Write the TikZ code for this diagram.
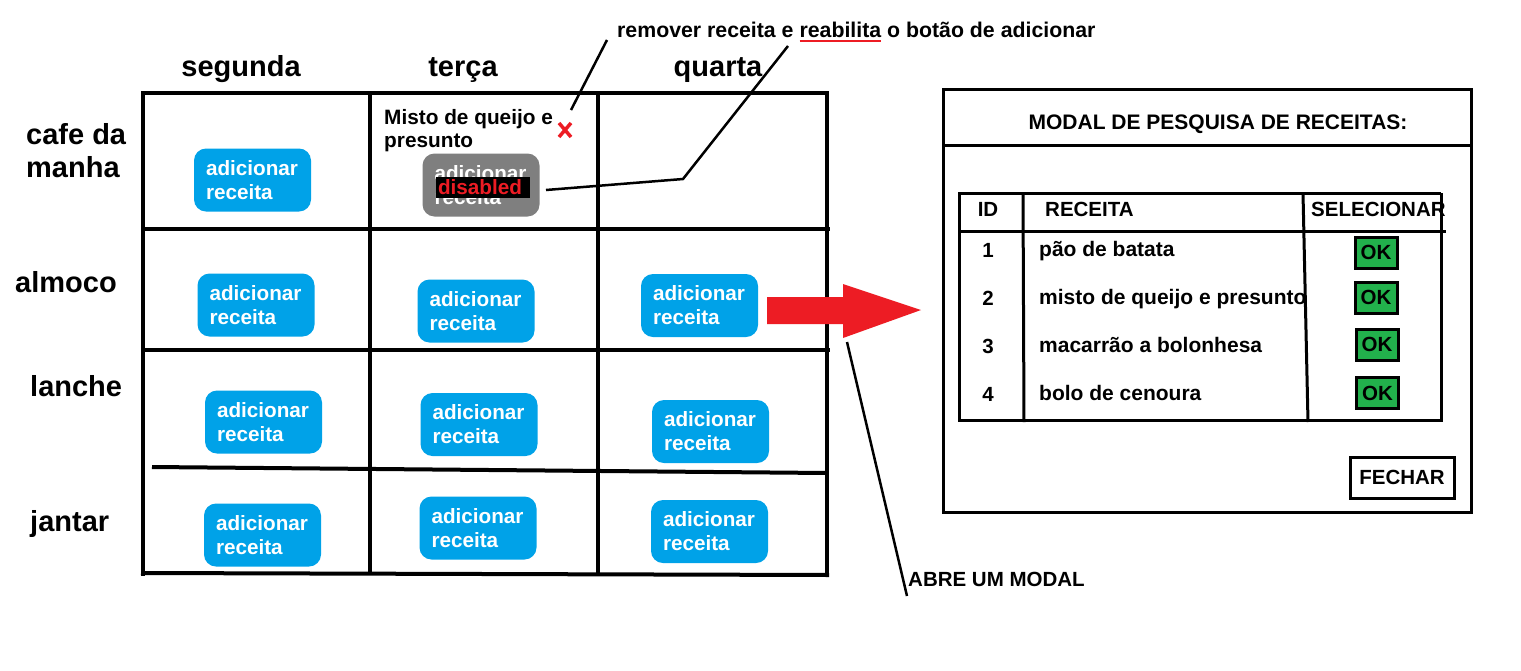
\documentclass[tikz,border=0pt]{standalone}
\usepackage{fontspec}
\setmainfont{Liberation Sans}
\definecolor{paintblue}{HTML}{00A2E8}
\definecolor{paintgray}{HTML}{7F7F7F}
\definecolor{paintred}{HTML}{ED1C24}
\definecolor{paintgreen}{HTML}{22B14C}
\newcommand\redul[1]{\setbox0\hbox{#1}\rlap{\color{paintred}\rule[-5pt]{\wd0}{2.5pt}}\box0\relax}
\begin{document}
\begin{tikzpicture}[x=1pt,y=-1pt,
  gridline/.style={line width=4pt},
  modline/.style={line width=3pt},
  hdr/.style={font=\bfseries\fontsize{29}{33}\selectfont, inner sep=0pt},
  txt/.style={font=\bfseries\fontsize{20.5}{24}\selectfont, inner sep=0pt},
  mtxt/.style={font=\bfseries\fontsize{21}{24}\selectfont, inner sep=0pt},
  btn/.style={fill=paintblue, rounded corners=12pt, minimum width=117pt, minimum height=63pt,
    text=white, align=left, text width=93pt, inner xsep=12pt, inner ysep=0pt,
    font=\bfseries\fontsize{20.7}{24}\selectfont},
  okbtn/.style={fill=paintgreen, draw=black, line width=3pt, minimum width=42pt, minimum height=31pt,
    inner sep=0pt, font=\bfseries\fontsize{20.5}{24}\selectfont},
  callout/.style={line width=2.5pt}]
\useasboundingbox (0,0) rectangle (1521,670);
\fill[white] (0,0) rectangle (1521,670);

% ---- week grid ----
\draw[gridline] (141,93) -- (829,93);
\draw[gridline] (143,91) -- (143,576);
\draw[gridline] (370,93) -- (370,574);
\draw[gridline] (598,93) -- (598,574);
\draw[gridline] (827,91) -- (827,576);
\draw[gridline] (143,229) -- (830,229);
\draw[gridline] (143,350) -- (830,350);
\draw[gridline] (152,467) -- (827,473);
\draw[gridline] (141,573) -- (829,575);

% column headers
\node[hdr, anchor=base] (seg) at (241,76) {segunda};
\node[hdr, anchor=base] (ter) at (463,76) {terça};
\node[hdr, anchor=base] (qua) at (718,76) {quarta};

% row labels
\node[hdr, anchor=west, align=left] (cafe) at (26,151) {cafe da\\manha};
\node[hdr, anchor=base west] (almoco) at (15,292) {almoco};
\node[hdr, anchor=base west] (lanche) at (30,396) {lanche};
\node[hdr, anchor=base west] (jantar) at (30,531) {jantar};

% buttons
\node[btn] (b11) at (252.5,180) {adicionar\\receita};
\node[btn] (b21) at (256,305) {adicionar\\receita};
\node[btn] (b22) at (476,311) {adicionar\\receita};
\node[btn] (b23) at (699.5,305.5) {adicionar\\receita};
\node[btn] (b31) at (263.5,422) {adicionar\\receita};
\node[btn] (b32) at (479,424.5) {adicionar\\receita};
\node[btn] (b33) at (710.5,431.5) {adicionar\\receita};
\node[btn] (b41) at (262.5,535) {adicionar\\receita};
\node[btn] (b42) at (478,528) {adicionar\\receita};
\node[btn] (b43) at (709.5,531.5) {adicionar\\receita};

% disabled button in terça / cafe
\node[btn, fill=paintgray] (bdis) at (481,185) {adicionar\\receita};
\node[fill=black, text=paintred, minimum width=94pt, minimum height=21pt, inner sep=0pt,
  font=\bfseries\fontsize{20.7}{24}\selectfont, text width=90pt, align=left] (dis) at (483,187.5) {disabled};

\node[font=\bfseries\fontsize{20.8}{23}\selectfont, inner sep=0pt, anchor=west, align=left] (misto) at (384,130.5) {Misto de queijo e\\presunto};

% red x
\coordinate (xc) at (565,130);
\draw[paintred, line width=3.5pt] ([shift={(-6,-7)}]xc) -- ([shift={(6,7)}]xc);
\draw[paintred, line width=3.5pt] ([shift={(6,-7)}]xc) -- ([shift={(-6,7)}]xc);

% callout text
\node[font=\bfseries\fontsize{21.3}{24}\selectfont, inner sep=0pt, anchor=base west] (rmtext) at (617,37) {remover receita e \redul{reabilita} o botão de adicionar};
\coordinate (rmA) at (571,110);
\coordinate (rmB) at (607,40);
\draw[callout] (rmA) -- (rmB);
\coordinate (dsA) at (546,190);
\coordinate (dsK) at (683,179);
\coordinate (dsB) at (788,46);
\draw[callout] (dsA) -- (dsK) -- (dsB);

% red arrow
\fill[paintred] (767,297) -- (843,297) -- (843,284) -- (921,310) -- (843,338) -- (843,324) -- (767,324) -- cycle;

% "abre um modal"
\node[txt, anchor=base west] (abre) at (908,586) {ABRE UM MODAL};
\coordinate (abA) at (847,342);
\coordinate (abB) at (907,596);
\draw[callout] (abA) -- (abB);

% ---- modal ----
\draw[modline] (943,89) rectangle (1471,512);
\draw[modline] (943,145) -- (1471,145);
\node[mtxt, anchor=base] (mtitle) at (1218,129) {MODAL DE PESQUISA DE RECEITAS:};

% table
\draw[modline] (1441,193) -- (959,193) -- (959,420) -- (1441,420) -- (1441,193);
\draw[modline] (959,231) -- (1446,231);
\draw[modline] (1023,193) -- (1024,422);
\draw[modline] (1303,193) -- (1308,422);

\node[txt, anchor=base] (hid) at (988,216) {ID};
\node[txt, anchor=base west] (hrec) at (1045,216) {RECEITA};
\node[txt, anchor=base west] (hsel) at (1311,216) {SELECIONAR};

\node[txt, anchor=base] (id1) at (988,257) {1};
\node[txt, anchor=base] (id2) at (988,305) {2};
\node[txt, anchor=base] (id3) at (988,353) {3};
\node[txt, anchor=base] (id4) at (988,401) {4};

\node[mtxt, anchor=base west] (r1) at (1039,256) {pão de batata};
\node[mtxt, anchor=base west] (r2) at (1039,304) {misto de queijo e presunto};
\node[mtxt, anchor=base west] (r3) at (1039,352) {macarrão a bolonhesa};
\node[mtxt, anchor=base west] (r4) at (1039,400) {bolo de cenoura};

\node[okbtn] (ok1) at (1376,252.5) {OK};
\node[okbtn] (ok2) at (1376,297.5) {OK};
\node[okbtn] (ok3) at (1377,344.5) {OK};
\node[okbtn] (ok4) at (1377.5,393) {OK};

\node[draw=black, line width=3pt, minimum width=104pt, minimum height=41pt, inner sep=0pt,
  font=\bfseries\fontsize{20.5}{24}\selectfont] (fechar) at (1402,477.5) {FECHAR};
\end{tikzpicture}
\end{document}
